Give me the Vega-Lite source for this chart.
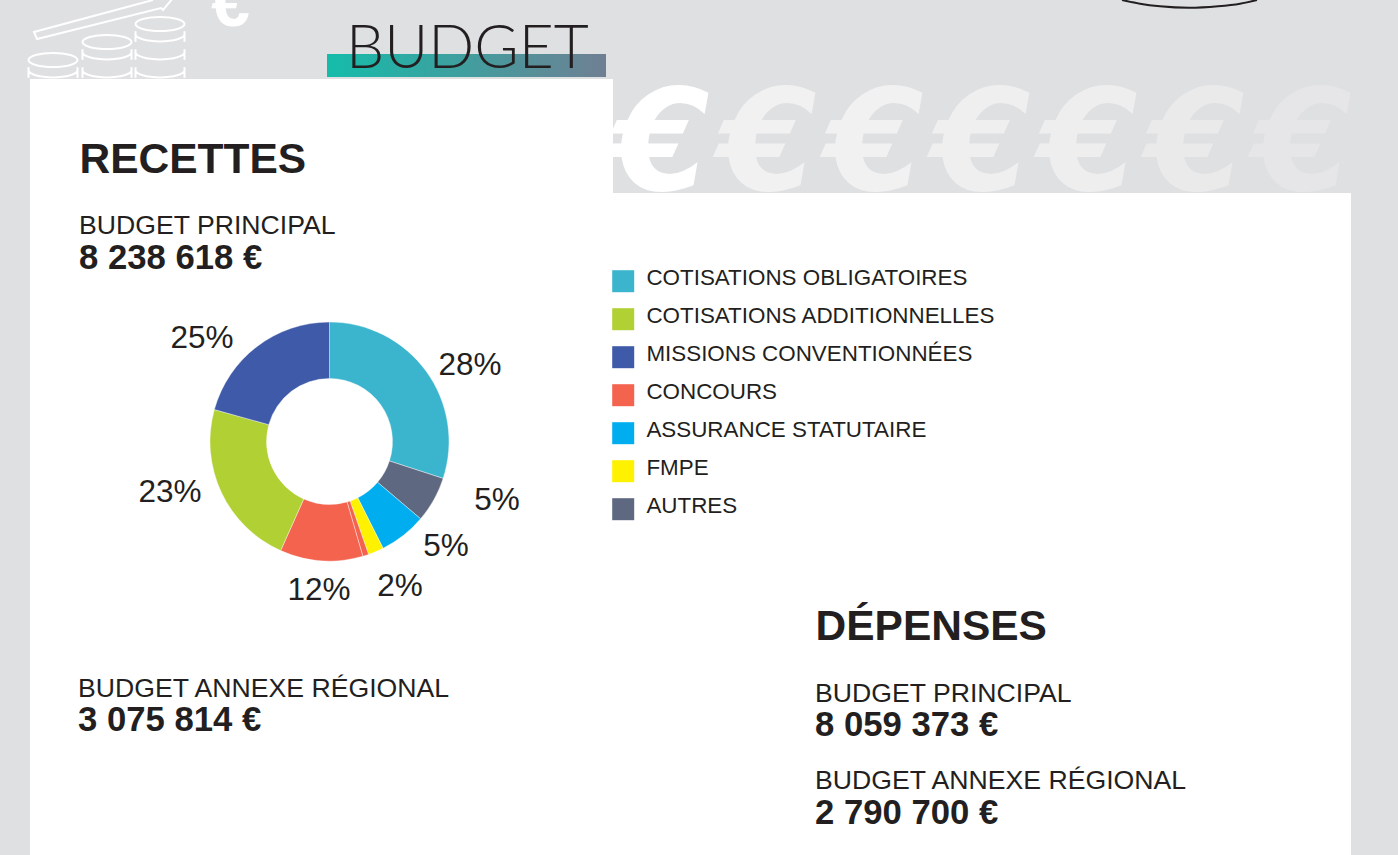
{
"$schema":"https://vega.github.io/schema/vega-lite/v6.json",
"width":1398,"height":855,"padding":0,"autosize":{"type":"none"},
"background":"#dfe0e2",
"config":{"view":{"stroke":null},"font":"Liberation Sans"},
"datasets":{
"hood":[{"px":1122,"py":0,"k":1},{"px":1140,"py":3.7,"k":2},{"px":1160,"py":6.3,"k":3},{"px":1189,"py":7.8,"k":4},{"px":1218,"py":6.3,"k":5},{"px":1240,"py":3.7,"k":6},{"px":1257,"py":0,"k":7}]
},
"encoding":{
"x":{"type":"quantitative","scale":{"domain":[0,1398],"nice":false,"zero":false},"axis":null},
"y":{"type":"quantitative","scale":{"domain":[0,855],"nice":false,"zero":false,"reverse":true},"axis":null}
},
"layer":[
{"data":{"values":[{"n":1,"px":660.5,"g":"€"},{"n":2,"px":767.5,"g":"€"},{"n":3,"px":874.5,"g":"€"},{"n":4,"px":981.5,"g":"€"},{"n":5,"px":1088.5,"g":"€"},{"n":6,"px":1195.5,"g":"€"},{"n":7,"px":1302.5,"g":"€"}]},
"mark":{"type":"text","font":"DejaVu Sans","fontWeight":"bold","fontStyle":"italic","fontSize":141,"align":"center","baseline":"alphabetic","color":"#ffffff"},
"encoding":{"x":{"field":"px"},"y":{"datum":190},"text":{"field":"g"},"opacity":{"field":"n","type":"quantitative","scale":{"domain":[1,2,3,4,5,6,7],"range":[1,0.56,0.56,0.5,0.47,0.34,0.22]},"legend":null}}},
{"data":{"name":"hood"},"mark":{"type":"area","color":"#ffffff","interpolate":"monotone"},"encoding":{"x":{"field":"px"},"y":{"field":"py"},"y2":{"datum":0},"order":{"field":"k"}}},
{"data":{"name":"hood"},"mark":{"type":"line","color":"#231f20","strokeWidth":2,"interpolate":"monotone"},"encoding":{"x":{"field":"px"},"y":{"field":"py"},"order":{"field":"k"}}},
{"data":{"values":[{"px":153,"py":0,"k":1},{"px":34,"py":32,"k":2},{"px":37,"py":39,"k":3},{"px":161,"py":8,"k":4},{"px":163,"py":10,"k":5},{"px":173,"py":-2,"k":6}]},
"mark":{"type":"line","color":"#ffffff","strokeWidth":2},"encoding":{"x":{"field":"px"},"y":{"field":"py"},"order":{"field":"k"}}},
{"data":{"values":[{"px":53,"py":60},{"px":107,"py":42},{"px":160,"py":24}]},
"mark":{"type":"point","filled":false,"color":"#ffffff","strokeWidth":2,"opacity":1,"size":2401,"shape":"M-1,0A1,0.29,0,1,1,1,0A1,0.29,0,1,1,-1,0Z"},
"encoding":{"x":{"field":"px"},"y":{"field":"py"}}},
{"data":{"values":[{"px":53,"py":60},{"px":107,"py":42},{"px":107,"py":60},{"px":160,"py":24},{"px":160,"py":42},{"px":160,"py":60}]},
"mark":{"type":"point","filled":false,"color":"#ffffff","strokeWidth":2,"opacity":1,"size":2401,"shape":"M-1,0.3L-1,0.42A1,0.29,0,0,0,1,0.42L1,0.3M-1,0.42L-1,0.72M1,0.42L1,0.72"},
"encoding":{"x":{"field":"px"},"y":{"field":"py"}}},
{"data":{"values":[{"px":230.5,"g":"€"}]},
"mark":{"type":"text","font":"Liberation Sans","fontWeight":"bold","fontSize":70,"align":"center","baseline":"alphabetic","color":"#ffffff"},
"encoding":{"x":{"field":"px"},"y":{"datum":26},"text":{"field":"g"}}},
{"data":{"values":[{"x0":30,"x1":613,"y0":79,"y1":855},{"x0":613,"x1":1351,"y0":193,"y1":855}]},
"mark":{"type":"rect","color":"#ffffff"},
"encoding":{"x":{"field":"x0"},"x2":{"field":"x1"},"y":{"field":"y0"},"y2":{"field":"y1"}}},
{"data":{"values":[{"x0":327,"x1":606,"y0":54,"y1":77}]},
"mark":{"type":"rect","color":{"gradient":"linear","x1":0,"y1":0,"x2":1,"y2":0,"stops":[{"offset":0,"color":"#14bcaa"},{"offset":1,"color":"#6f7f93"}]}},
"encoding":{"x":{"field":"x0"},"x2":{"field":"x1"},"y":{"field":"y0"},"y2":{"field":"y1"}}},
{"data":{"values":[{"px":346,"py":68,"t":"BUDGET"}]},
"mark":{"type":"text","font":"Lato","fontWeight":300,"fontSize":60.5,"align":"left","baseline":"alphabetic","color":"#231f20"},
"encoding":{"x":{"field":"px"},"y":{"field":"py"},"text":{"field":"t"}}},
{"data":{"values":[{"px":79.5,"py":173,"t":"RECETTES"},{"px":815.5,"py":640,"t":"DÉPENSES"}]},
"mark":{"type":"text","fontWeight":"bold","fontSize":42.5,"align":"left","baseline":"alphabetic","color":"#231f20"},
"encoding":{"x":{"field":"px"},"y":{"field":"py"},"text":{"field":"t"}}},
{"data":{"values":[{"px":79,"py":234,"t":"BUDGET PRINCIPAL"},{"px":78,"py":697,"t":"BUDGET ANNEXE RÉGIONAL"},{"px":815,"py":702,"t":"BUDGET PRINCIPAL"},{"px":815,"py":789,"t":"BUDGET ANNEXE RÉGIONAL"}]},
"mark":{"type":"text","fontSize":26.65,"align":"left","baseline":"alphabetic","color":"#231f20"},
"encoding":{"x":{"field":"px"},"y":{"field":"py"},"text":{"field":"t"}}},
{"data":{"values":[{"px":79,"py":269,"t":"8 238 618 €"},{"px":78,"py":731,"t":"3 075 814 €"},{"px":815,"py":736,"t":"8 059 373 €"},{"px":815,"py":824,"t":"2 790 700 €"}]},
"mark":{"type":"text","fontWeight":"bold","fontSize":34.7,"align":"left","baseline":"alphabetic","color":"#231f20"},
"encoding":{"x":{"field":"px"},"y":{"field":"py"},"text":{"field":"t"}}},
{"data":{"values":[
{"cat":"COTISATIONS OBLIGATOIRES","share":30,"rank":1},
{"cat":"AUTRES","share":6.2,"rank":2},
{"cat":"ASSURANCE STATUTAIRE","share":6.4,"rank":3},
{"cat":"FMPE","share":2.1,"rank":4},
{"cat":"CONCOURS","share":0.8,"rank":5},
{"cat":"CONCOURS","share":11.2,"rank":6},
{"cat":"COTISATIONS ADDITIONNELLES","share":22.6,"rank":7},
{"cat":"MISSIONS CONVENTIONNÉES","share":20.7,"rank":8}]},
"mark":{"type":"arc","outerRadius":119.5,"innerRadius":63,"stroke":"#ffffff","strokeWidth":0.4},
"encoding":{"x":{"datum":329.5},"y":{"datum":441.5},
"theta":{"field":"share","type":"quantitative","stack":true},
"order":{"field":"rank"},
"detail":{"field":"rank"},
"color":{"field":"cat","type":"nominal","sort":null,
"scale":{"domain":["COTISATIONS OBLIGATOIRES","COTISATIONS ADDITIONNELLES","MISSIONS CONVENTIONNÉES","CONCOURS","ASSURANCE STATUTAIRE","FMPE","AUTRES"],"range":["#3bb5cd","#b0d033","#3f5aa8","#f3634e","#00aeef","#fff200","#5e6880"]},
"legend":{"orient":"none","legendX":612,"legendY":270,"title":null,"padding":0,"symbolType":"square","symbolSize":484,"symbolStrokeWidth":0,"symbolOpacity":1,"labelFontSize":22.4,"labelFont":"Liberation Sans","labelColor":"#231f20","labelOffset":12,"rowPadding":12,"labelLimit":500,"encoding":{"labels":{"dy":{"value":-3}}}}}}},
{"data":{"values":[{"px":470,"py":365.5,"t":"28%"},{"px":497,"py":500.5,"t":"5%"},{"px":446,"py":546.5,"t":"5%"},{"px":400,"py":586.5,"t":"2%"},{"px":319,"py":591,"t":"12%"},{"px":170,"py":492.5,"t":"23%"},{"px":202,"py":339,"t":"25%"}]},
"mark":{"type":"text","fontSize":31.5,"align":"center","baseline":"middle","color":"#231f20"},
"encoding":{"x":{"field":"px"},"y":{"field":"py"},"text":{"field":"t"}}}
]
}
